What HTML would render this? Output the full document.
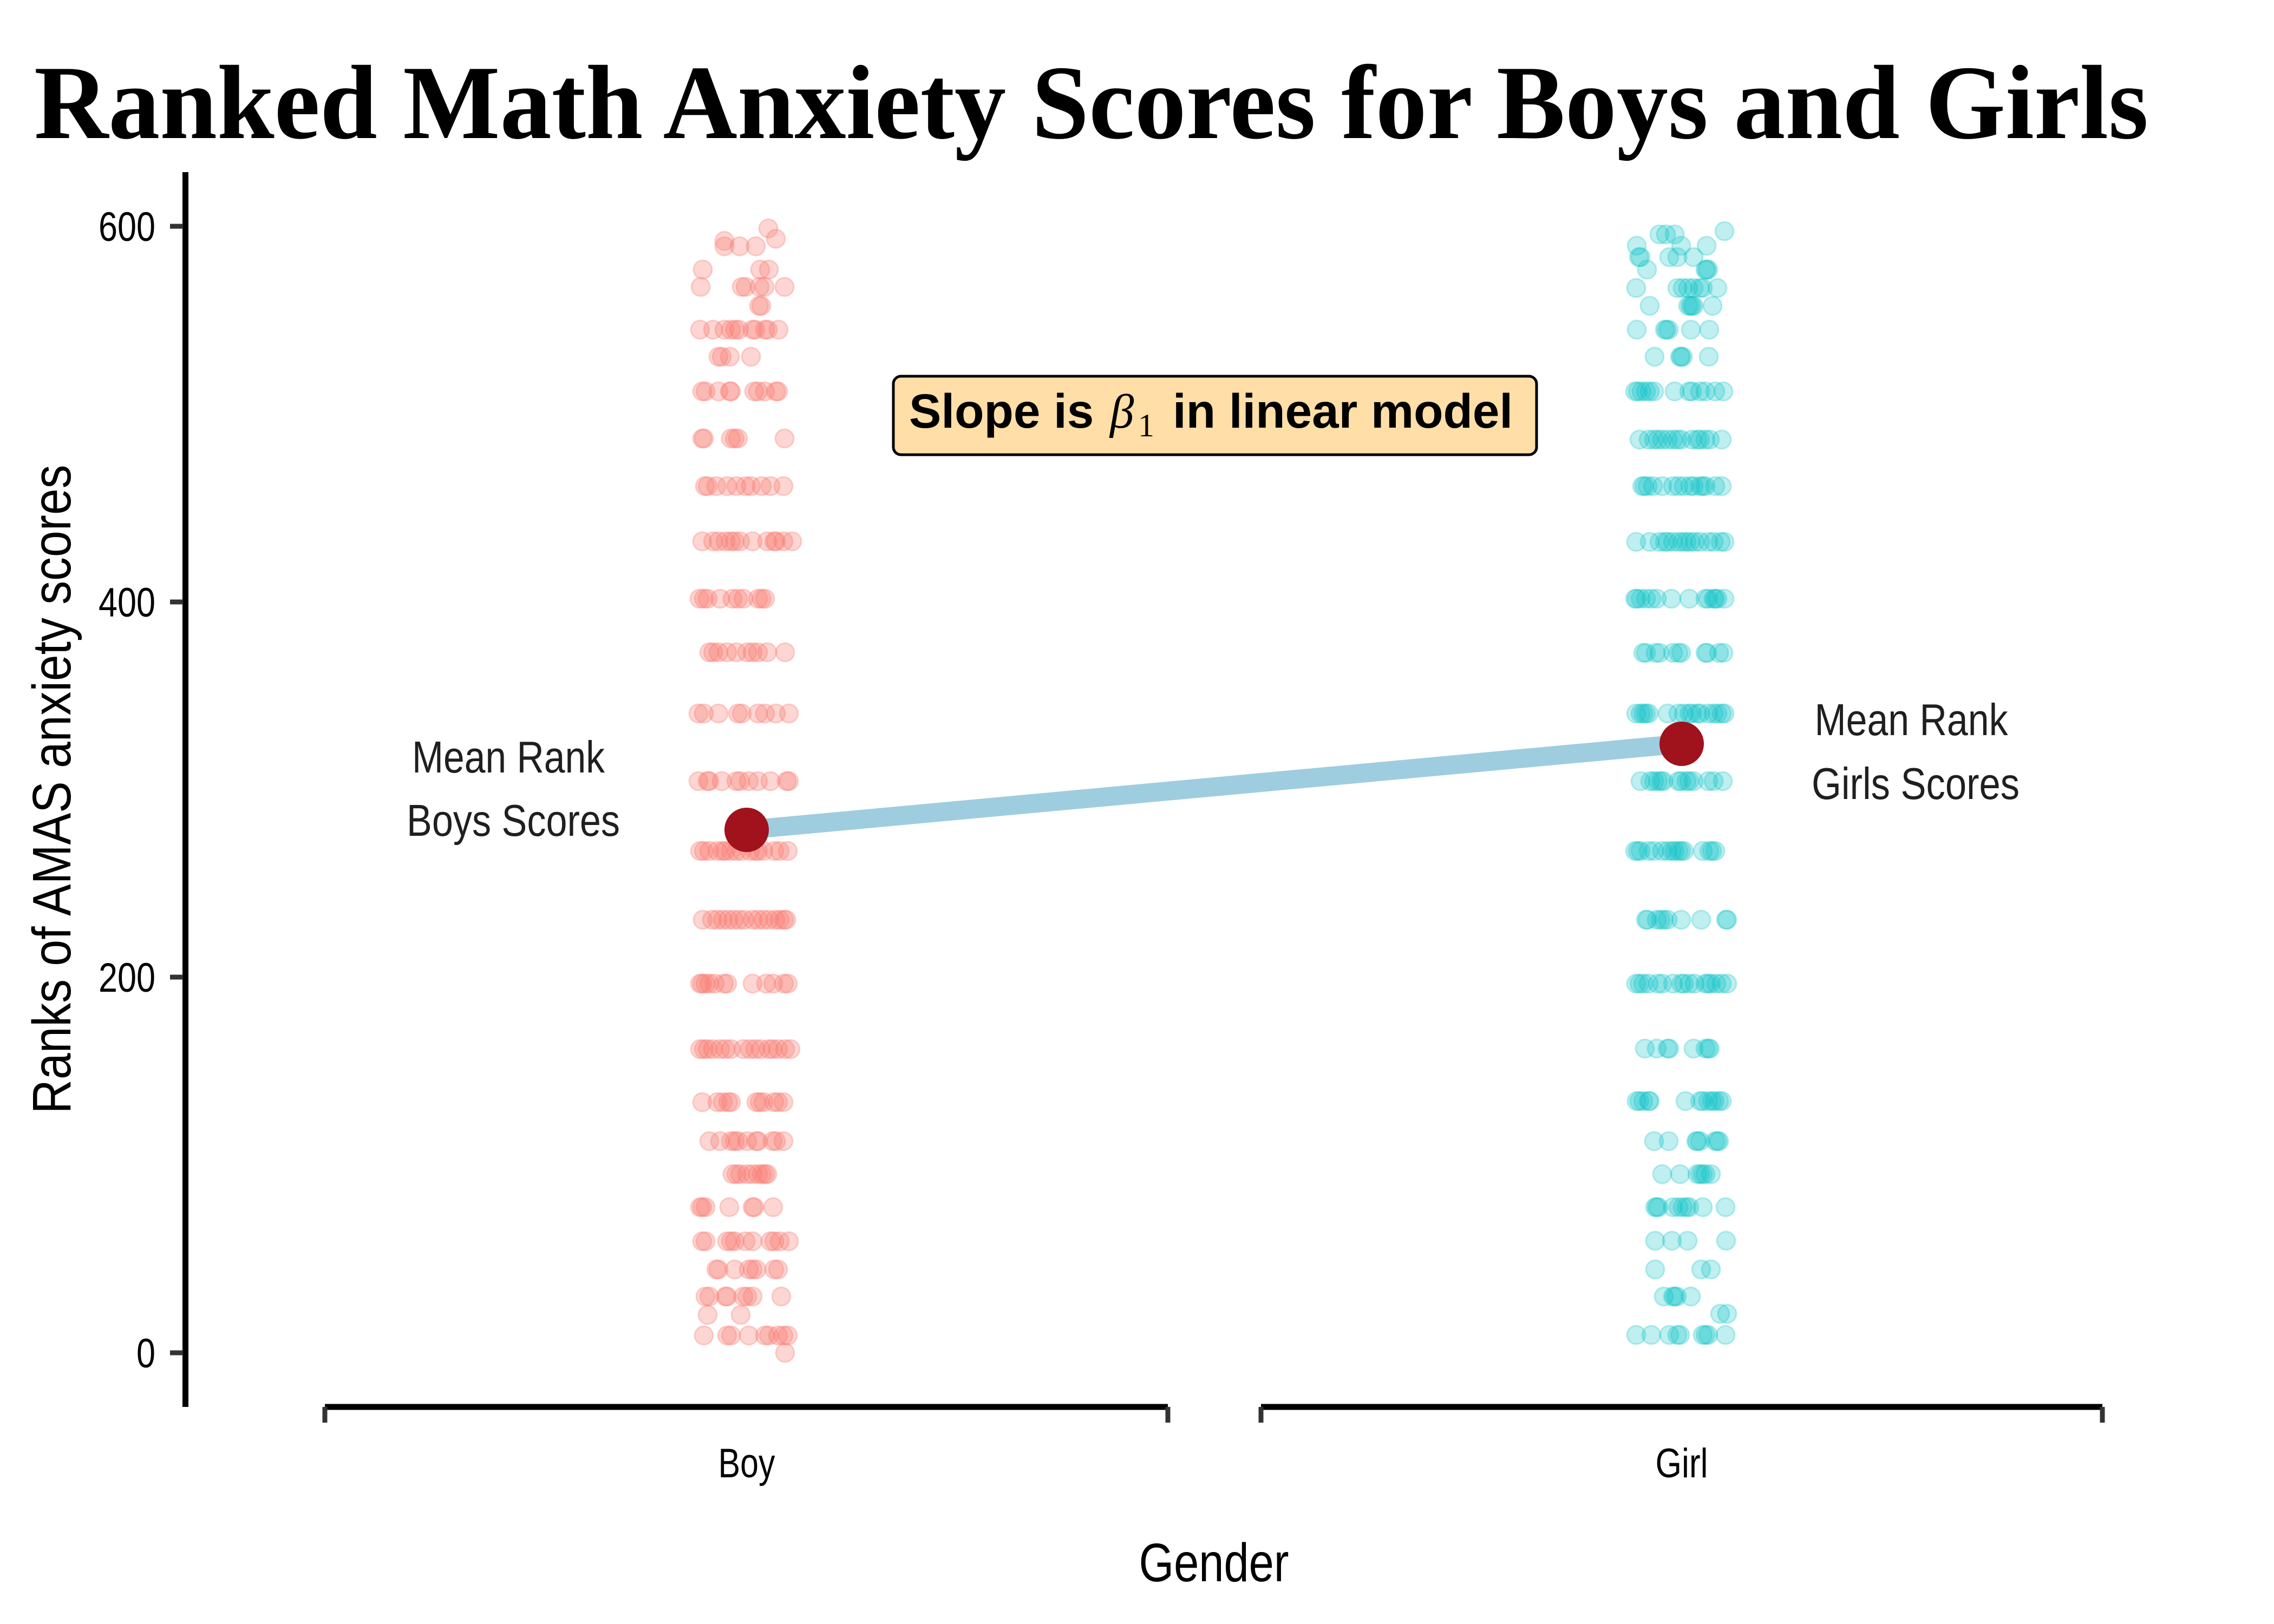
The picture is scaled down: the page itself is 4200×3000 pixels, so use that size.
<!DOCTYPE html>
<html><head><meta charset="utf-8"><style>html,body{margin:0;padding:0;background:#fff}svg{display:block}</style></head>
<body>
<svg xmlns="http://www.w3.org/2000/svg" width="4200" height="3000" viewBox="0 0 4200 3000">
<rect width="4200" height="3000" fill="#fff"/>
<text x="63" y="255" font-family="Liberation Serif, serif" font-weight="bold" font-size="195" textLength="3905" lengthAdjust="spacingAndGlyphs">Ranked Math Anxiety Scores for Boys and Girls</text>

<!-- boys points -->
<g fill="#F8766D" fill-opacity="0.3" stroke="#F8766D" stroke-opacity="0.3" stroke-width="3">
<circle cx="1419" cy="422" r="17"/>
<circle cx="1433" cy="441" r="17"/>
<circle cx="1338" cy="445" r="17"/>
<circle cx="1338" cy="455" r="17"/><circle cx="1366" cy="455" r="17"/><circle cx="1396" cy="455" r="17"/>
<circle cx="1298" cy="498" r="17"/><circle cx="1404" cy="498" r="17"/><circle cx="1420" cy="498" r="17"/>
<circle cx="1294" cy="530" r="17"/><circle cx="1370" cy="530" r="17"/><circle cx="1377" cy="530" r="17"/><circle cx="1403" cy="530" r="17"/><circle cx="1412" cy="530" r="17"/><circle cx="1449" cy="530" r="17"/>
<circle cx="1402" cy="565" r="17"/><circle cx="1406" cy="565" r="17"/>
<circle cx="1293" cy="609" r="17"/><circle cx="1317" cy="609" r="17"/><circle cx="1338" cy="609" r="17"/><circle cx="1350" cy="609" r="17"/><circle cx="1358" cy="609" r="17"/><circle cx="1365" cy="609" r="17"/><circle cx="1390" cy="609" r="17"/><circle cx="1395" cy="609" r="17"/><circle cx="1413" cy="609" r="17"/><circle cx="1418" cy="609" r="17"/><circle cx="1438" cy="609" r="17"/>
<circle cx="1327" cy="659" r="17"/><circle cx="1333" cy="659" r="17"/><circle cx="1348" cy="659" r="17"/><circle cx="1387" cy="659" r="17"/>
<circle cx="1297" cy="723" r="17"/><circle cx="1303" cy="723" r="17"/><circle cx="1327" cy="723" r="17"/><circle cx="1348" cy="723" r="17"/><circle cx="1350" cy="723" r="17"/><circle cx="1393" cy="723" r="17"/><circle cx="1400" cy="723" r="17"/><circle cx="1413" cy="723" r="17"/><circle cx="1433" cy="723" r="17"/><circle cx="1437" cy="723" r="17"/>
<circle cx="1297" cy="810" r="17"/><circle cx="1300" cy="810" r="17"/><circle cx="1350" cy="810" r="17"/><circle cx="1357" cy="810" r="17"/><circle cx="1363" cy="810" r="17"/><circle cx="1449" cy="810" r="17"/>
<circle cx="1302" cy="898" r="17"/><circle cx="1307" cy="898" r="17"/><circle cx="1323" cy="898" r="17"/><circle cx="1343" cy="898" r="17"/><circle cx="1360" cy="898" r="17"/><circle cx="1377" cy="898" r="17"/><circle cx="1387" cy="898" r="17"/><circle cx="1407" cy="898" r="17"/><circle cx="1423" cy="898" r="17"/><circle cx="1447" cy="898" r="17"/>
<circle cx="1297" cy="1000" r="17"/><circle cx="1317" cy="1000" r="17"/><circle cx="1327" cy="1000" r="17"/><circle cx="1340" cy="1000" r="17"/><circle cx="1350" cy="1000" r="17"/><circle cx="1357" cy="1000" r="17"/><circle cx="1367" cy="1000" r="17"/><circle cx="1390" cy="1000" r="17"/><circle cx="1417" cy="1000" r="17"/><circle cx="1430" cy="1000" r="17"/><circle cx="1433" cy="1000" r="17"/><circle cx="1447" cy="1000" r="17"/><circle cx="1463" cy="1000" r="17"/>
<circle cx="1292" cy="1106" r="17"/><circle cx="1300" cy="1106" r="17"/><circle cx="1307" cy="1106" r="17"/><circle cx="1330" cy="1106" r="17"/><circle cx="1353" cy="1106" r="17"/><circle cx="1363" cy="1106" r="17"/><circle cx="1373" cy="1106" r="17"/><circle cx="1400" cy="1106" r="17"/><circle cx="1407" cy="1106" r="17"/><circle cx="1413" cy="1106" r="17"/>
<circle cx="1310" cy="1205" r="17"/><circle cx="1317" cy="1205" r="17"/><circle cx="1327" cy="1205" r="17"/><circle cx="1343" cy="1205" r="17"/><circle cx="1360" cy="1205" r="17"/><circle cx="1380" cy="1205" r="17"/><circle cx="1390" cy="1205" r="17"/><circle cx="1400" cy="1205" r="17"/><circle cx="1417" cy="1205" r="17"/><circle cx="1450" cy="1205" r="17"/>
<circle cx="1290" cy="1318" r="17"/><circle cx="1300" cy="1318" r="17"/><circle cx="1327" cy="1318" r="17"/><circle cx="1363" cy="1318" r="17"/><circle cx="1370" cy="1318" r="17"/><circle cx="1400" cy="1318" r="17"/><circle cx="1413" cy="1318" r="17"/><circle cx="1433" cy="1318" r="17"/><circle cx="1457" cy="1318" r="17"/>
<circle cx="1290" cy="1443" r="17"/><circle cx="1307" cy="1443" r="17"/><circle cx="1310" cy="1443" r="17"/><circle cx="1333" cy="1443" r="17"/><circle cx="1360" cy="1443" r="17"/><circle cx="1367" cy="1443" r="17"/><circle cx="1383" cy="1443" r="17"/><circle cx="1400" cy="1443" r="17"/><circle cx="1423" cy="1443" r="17"/><circle cx="1453" cy="1443" r="17"/><circle cx="1457" cy="1443" r="17"/>
<circle cx="1293" cy="1572" r="17"/><circle cx="1300" cy="1572" r="17"/><circle cx="1310" cy="1572" r="17"/><circle cx="1325" cy="1572" r="17"/><circle cx="1335" cy="1572" r="17"/><circle cx="1340" cy="1572" r="17"/><circle cx="1350" cy="1572" r="17"/><circle cx="1360" cy="1572" r="17"/><circle cx="1370" cy="1572" r="17"/><circle cx="1385" cy="1572" r="17"/><circle cx="1395" cy="1572" r="17"/><circle cx="1400" cy="1572" r="17"/><circle cx="1410" cy="1572" r="17"/><circle cx="1430" cy="1572" r="17"/><circle cx="1440" cy="1572" r="17"/><circle cx="1455" cy="1572" r="17"/>
<circle cx="1298" cy="1699" r="17"/><circle cx="1315" cy="1699" r="17"/><circle cx="1325" cy="1699" r="17"/><circle cx="1335" cy="1699" r="17"/><circle cx="1345" cy="1699" r="17"/><circle cx="1355" cy="1699" r="17"/><circle cx="1365" cy="1699" r="17"/><circle cx="1375" cy="1699" r="17"/><circle cx="1390" cy="1699" r="17"/><circle cx="1400" cy="1699" r="17"/><circle cx="1410" cy="1699" r="17"/><circle cx="1420" cy="1699" r="17"/><circle cx="1432" cy="1699" r="17"/><circle cx="1440" cy="1699" r="17"/><circle cx="1448" cy="1699" r="17"/><circle cx="1452" cy="1699" r="17"/>
<circle cx="1293" cy="1817" r="17"/><circle cx="1297" cy="1817" r="17"/><circle cx="1303" cy="1817" r="17"/><circle cx="1310" cy="1817" r="17"/><circle cx="1320" cy="1817" r="17"/><circle cx="1337" cy="1817" r="17"/><circle cx="1343" cy="1817" r="17"/><circle cx="1390" cy="1817" r="17"/><circle cx="1415" cy="1817" r="17"/><circle cx="1428" cy="1817" r="17"/><circle cx="1448" cy="1817" r="17"/><circle cx="1455" cy="1817" r="17"/>
<circle cx="1293" cy="1938" r="17"/><circle cx="1300" cy="1938" r="17"/><circle cx="1307" cy="1938" r="17"/><circle cx="1317" cy="1938" r="17"/><circle cx="1330" cy="1938" r="17"/><circle cx="1340" cy="1938" r="17"/><circle cx="1350" cy="1938" r="17"/><circle cx="1373" cy="1938" r="17"/><circle cx="1385" cy="1938" r="17"/><circle cx="1395" cy="1938" r="17"/><circle cx="1405" cy="1938" r="17"/><circle cx="1420" cy="1938" r="17"/><circle cx="1427" cy="1938" r="17"/><circle cx="1437" cy="1938" r="17"/><circle cx="1450" cy="1938" r="17"/><circle cx="1460" cy="1938" r="17"/>
<circle cx="1297" cy="2036" r="17"/><circle cx="1325" cy="2036" r="17"/><circle cx="1335" cy="2036" r="17"/><circle cx="1345" cy="2036" r="17"/><circle cx="1350" cy="2036" r="17"/><circle cx="1397" cy="2036" r="17"/><circle cx="1403" cy="2036" r="17"/><circle cx="1410" cy="2036" r="17"/><circle cx="1430" cy="2036" r="17"/><circle cx="1437" cy="2036" r="17"/><circle cx="1447" cy="2036" r="17"/>
<circle cx="1310" cy="2108" r="17"/><circle cx="1330" cy="2108" r="17"/><circle cx="1350" cy="2108" r="17"/><circle cx="1357" cy="2108" r="17"/><circle cx="1363" cy="2108" r="17"/><circle cx="1380" cy="2108" r="17"/><circle cx="1397" cy="2108" r="17"/><circle cx="1400" cy="2108" r="17"/><circle cx="1427" cy="2108" r="17"/><circle cx="1433" cy="2108" r="17"/><circle cx="1447" cy="2108" r="17"/>
<circle cx="1353" cy="2169" r="17"/><circle cx="1360" cy="2169" r="17"/><circle cx="1367" cy="2169" r="17"/><circle cx="1380" cy="2169" r="17"/><circle cx="1390" cy="2169" r="17"/><circle cx="1400" cy="2169" r="17"/><circle cx="1407" cy="2169" r="17"/><circle cx="1413" cy="2169" r="17"/><circle cx="1417" cy="2169" r="17"/>
<circle cx="1293" cy="2230" r="17"/><circle cx="1297" cy="2230" r="17"/><circle cx="1303" cy="2230" r="17"/><circle cx="1347" cy="2230" r="17"/><circle cx="1390" cy="2230" r="17"/><circle cx="1393" cy="2230" r="17"/><circle cx="1428" cy="2230" r="17"/>
<circle cx="1297" cy="2293" r="17"/><circle cx="1303" cy="2293" r="17"/><circle cx="1343" cy="2293" r="17"/><circle cx="1350" cy="2293" r="17"/><circle cx="1357" cy="2293" r="17"/><circle cx="1377" cy="2293" r="17"/><circle cx="1390" cy="2293" r="17"/><circle cx="1423" cy="2293" r="17"/><circle cx="1430" cy="2293" r="17"/><circle cx="1440" cy="2293" r="17"/><circle cx="1457" cy="2293" r="17"/>
<circle cx="1323" cy="2345" r="17"/><circle cx="1327" cy="2345" r="17"/><circle cx="1357" cy="2345" r="17"/><circle cx="1383" cy="2345" r="17"/><circle cx="1390" cy="2345" r="17"/><circle cx="1397" cy="2345" r="17"/><circle cx="1430" cy="2345" r="17"/><circle cx="1437" cy="2345" r="17"/>
<circle cx="1303" cy="2395" r="17"/><circle cx="1310" cy="2395" r="17"/><circle cx="1340" cy="2395" r="17"/><circle cx="1343" cy="2395" r="17"/><circle cx="1373" cy="2395" r="17"/><circle cx="1380" cy="2395" r="17"/><circle cx="1390" cy="2395" r="17"/><circle cx="1443" cy="2395" r="17"/>
<circle cx="1307" cy="2429" r="17"/><circle cx="1368" cy="2429" r="17"/>
<circle cx="1300" cy="2467" r="17"/><circle cx="1343" cy="2467" r="17"/><circle cx="1350" cy="2467" r="17"/><circle cx="1383" cy="2467" r="17"/><circle cx="1413" cy="2467" r="17"/><circle cx="1420" cy="2467" r="17"/><circle cx="1437" cy="2467" r="17"/><circle cx="1447" cy="2467" r="17"/><circle cx="1455" cy="2467" r="17"/>
<circle cx="1450" cy="2499" r="17"/>
</g>

<!-- girls points -->
<g fill="#00BFC4" fill-opacity="0.25" stroke="#00BFC4" stroke-opacity="0.25" stroke-width="3">
<circle cx="3185" cy="427" r="17"/>
<circle cx="3065" cy="433" r="17"/><circle cx="3077" cy="433" r="17"/><circle cx="3093" cy="433" r="17"/>
<circle cx="3023" cy="454" r="17"/><circle cx="3105" cy="454" r="17"/><circle cx="3152" cy="454" r="17"/>
<circle cx="3027" cy="475" r="17"/><circle cx="3030" cy="475" r="17"/><circle cx="3083" cy="475" r="17"/><circle cx="3098" cy="475" r="17"/><circle cx="3128" cy="475" r="17"/>
<circle cx="3042" cy="498" r="17"/><circle cx="3150" cy="498" r="17"/><circle cx="3152" cy="498" r="17"/><circle cx="3155" cy="498" r="17"/>
<circle cx="3022" cy="532" r="17"/><circle cx="3098" cy="532" r="17"/><circle cx="3108" cy="532" r="17"/><circle cx="3118" cy="532" r="17"/><circle cx="3128" cy="532" r="17"/><circle cx="3140" cy="532" r="17"/><circle cx="3145" cy="532" r="17"/><circle cx="3172" cy="532" r="17"/>
<circle cx="3047" cy="565" r="17"/><circle cx="3118" cy="565" r="17"/><circle cx="3122" cy="565" r="17"/><circle cx="3125" cy="565" r="17"/><circle cx="3128" cy="565" r="17"/><circle cx="3163" cy="565" r="17"/>
<circle cx="3023" cy="609" r="17"/><circle cx="3075" cy="609" r="17"/><circle cx="3078" cy="609" r="17"/><circle cx="3082" cy="609" r="17"/><circle cx="3123" cy="609" r="17"/><circle cx="3157" cy="609" r="17"/>
<circle cx="3056" cy="659" r="17"/><circle cx="3103" cy="659" r="17"/><circle cx="3105" cy="659" r="17"/><circle cx="3108" cy="659" r="17"/><circle cx="3156" cy="659" r="17"/>
<circle cx="3020" cy="723" r="17"/><circle cx="3025" cy="723" r="17"/><circle cx="3032" cy="723" r="17"/><circle cx="3040" cy="723" r="17"/><circle cx="3047" cy="723" r="17"/><circle cx="3055" cy="723" r="17"/><circle cx="3093" cy="723" r="17"/><circle cx="3120" cy="723" r="17"/><circle cx="3125" cy="723" r="17"/><circle cx="3140" cy="723" r="17"/><circle cx="3150" cy="723" r="17"/><circle cx="3168" cy="723" r="17"/><circle cx="3183" cy="723" r="17"/>
<circle cx="3028" cy="812" r="17"/><circle cx="3045" cy="812" r="17"/><circle cx="3055" cy="812" r="17"/><circle cx="3062" cy="812" r="17"/><circle cx="3070" cy="812" r="17"/><circle cx="3080" cy="812" r="17"/><circle cx="3090" cy="812" r="17"/><circle cx="3098" cy="812" r="17"/><circle cx="3105" cy="812" r="17"/><circle cx="3125" cy="812" r="17"/><circle cx="3135" cy="812" r="17"/><circle cx="3140" cy="812" r="17"/><circle cx="3150" cy="812" r="17"/><circle cx="3158" cy="812" r="17"/><circle cx="3180" cy="812" r="17"/>
<circle cx="3033" cy="898" r="17"/><circle cx="3037" cy="898" r="17"/><circle cx="3043" cy="898" r="17"/><circle cx="3053" cy="898" r="17"/><circle cx="3070" cy="898" r="17"/><circle cx="3090" cy="898" r="17"/><circle cx="3100" cy="898" r="17"/><circle cx="3110" cy="898" r="17"/><circle cx="3122" cy="898" r="17"/><circle cx="3128" cy="898" r="17"/><circle cx="3140" cy="898" r="17"/><circle cx="3145" cy="898" r="17"/><circle cx="3150" cy="898" r="17"/><circle cx="3168" cy="898" r="17"/><circle cx="3180" cy="898" r="17"/>
<circle cx="3022" cy="1001" r="17"/><circle cx="3047" cy="1001" r="17"/><circle cx="3065" cy="1001" r="17"/><circle cx="3075" cy="1001" r="17"/><circle cx="3080" cy="1001" r="17"/><circle cx="3090" cy="1001" r="17"/><circle cx="3100" cy="1001" r="17"/><circle cx="3108" cy="1001" r="17"/><circle cx="3115" cy="1001" r="17"/><circle cx="3122" cy="1001" r="17"/><circle cx="3130" cy="1001" r="17"/><circle cx="3140" cy="1001" r="17"/><circle cx="3155" cy="1001" r="17"/><circle cx="3165" cy="1001" r="17"/><circle cx="3178" cy="1001" r="17"/><circle cx="3185" cy="1001" r="17"/>
<circle cx="3020" cy="1106" r="17"/><circle cx="3023" cy="1106" r="17"/><circle cx="3030" cy="1106" r="17"/><circle cx="3040" cy="1106" r="17"/><circle cx="3050" cy="1106" r="17"/><circle cx="3060" cy="1106" r="17"/><circle cx="3087" cy="1106" r="17"/><circle cx="3120" cy="1106" r="17"/><circle cx="3150" cy="1106" r="17"/><circle cx="3155" cy="1106" r="17"/><circle cx="3165" cy="1106" r="17"/><circle cx="3168" cy="1106" r="17"/><circle cx="3172" cy="1106" r="17"/><circle cx="3185" cy="1106" r="17"/>
<circle cx="3035" cy="1206" r="17"/><circle cx="3040" cy="1206" r="17"/><circle cx="3058" cy="1206" r="17"/><circle cx="3065" cy="1206" r="17"/><circle cx="3090" cy="1206" r="17"/><circle cx="3100" cy="1206" r="17"/><circle cx="3105" cy="1206" r="17"/><circle cx="3150" cy="1206" r="17"/><circle cx="3153" cy="1206" r="17"/><circle cx="3175" cy="1206" r="17"/><circle cx="3183" cy="1206" r="17"/>
<circle cx="3022" cy="1318" r="17"/><circle cx="3030" cy="1318" r="17"/><circle cx="3035" cy="1318" r="17"/><circle cx="3040" cy="1318" r="17"/><circle cx="3045" cy="1318" r="17"/><circle cx="3080" cy="1318" r="17"/><circle cx="3100" cy="1318" r="17"/><circle cx="3110" cy="1318" r="17"/><circle cx="3120" cy="1318" r="17"/><circle cx="3125" cy="1318" r="17"/><circle cx="3135" cy="1318" r="17"/><circle cx="3140" cy="1318" r="17"/><circle cx="3155" cy="1318" r="17"/><circle cx="3165" cy="1318" r="17"/><circle cx="3172" cy="1318" r="17"/><circle cx="3180" cy="1318" r="17"/><circle cx="3185" cy="1318" r="17"/>
<circle cx="3030" cy="1443" r="17"/><circle cx="3048" cy="1443" r="17"/><circle cx="3055" cy="1443" r="17"/><circle cx="3062" cy="1443" r="17"/><circle cx="3068" cy="1443" r="17"/><circle cx="3072" cy="1443" r="17"/><circle cx="3100" cy="1443" r="17"/><circle cx="3105" cy="1443" r="17"/><circle cx="3115" cy="1443" r="17"/><circle cx="3120" cy="1443" r="17"/><circle cx="3128" cy="1443" r="17"/><circle cx="3155" cy="1443" r="17"/><circle cx="3165" cy="1443" r="17"/><circle cx="3182" cy="1443" r="17"/>
<circle cx="3020" cy="1572" r="17"/><circle cx="3025" cy="1572" r="17"/><circle cx="3030" cy="1572" r="17"/><circle cx="3045" cy="1572" r="17"/><circle cx="3055" cy="1572" r="17"/><circle cx="3070" cy="1572" r="17"/><circle cx="3080" cy="1572" r="17"/><circle cx="3088" cy="1572" r="17"/><circle cx="3093" cy="1572" r="17"/><circle cx="3100" cy="1572" r="17"/><circle cx="3105" cy="1572" r="17"/><circle cx="3110" cy="1572" r="17"/><circle cx="3145" cy="1572" r="17"/><circle cx="3157" cy="1572" r="17"/><circle cx="3162" cy="1572" r="17"/><circle cx="3168" cy="1572" r="17"/>
<circle cx="3040" cy="1699" r="17"/><circle cx="3043" cy="1699" r="17"/><circle cx="3060" cy="1699" r="17"/><circle cx="3067" cy="1699" r="17"/><circle cx="3073" cy="1699" r="17"/><circle cx="3080" cy="1699" r="17"/><circle cx="3105" cy="1699" r="17"/><circle cx="3142" cy="1699" r="17"/><circle cx="3188" cy="1699" r="17"/><circle cx="3190" cy="1699" r="17"/>
<circle cx="3022" cy="1817" r="17"/><circle cx="3028" cy="1817" r="17"/><circle cx="3035" cy="1817" r="17"/><circle cx="3045" cy="1817" r="17"/><circle cx="3062" cy="1817" r="17"/><circle cx="3070" cy="1817" r="17"/><circle cx="3090" cy="1817" r="17"/><circle cx="3105" cy="1817" r="17"/><circle cx="3110" cy="1817" r="17"/><circle cx="3120" cy="1817" r="17"/><circle cx="3130" cy="1817" r="17"/><circle cx="3150" cy="1817" r="17"/><circle cx="3155" cy="1817" r="17"/><circle cx="3160" cy="1817" r="17"/><circle cx="3170" cy="1817" r="17"/><circle cx="3180" cy="1817" r="17"/><circle cx="3190" cy="1817" r="17"/>
<circle cx="3038" cy="1937" r="17"/><circle cx="3060" cy="1937" r="17"/><circle cx="3080" cy="1937" r="17"/><circle cx="3083" cy="1937" r="17"/><circle cx="3128" cy="1937" r="17"/><circle cx="3150" cy="1937" r="17"/><circle cx="3155" cy="1937" r="17"/><circle cx="3158" cy="1937" r="17"/>
<circle cx="3023" cy="2034" r="17"/><circle cx="3028" cy="2034" r="17"/><circle cx="3035" cy="2034" r="17"/><circle cx="3045" cy="2034" r="17"/><circle cx="3047" cy="2034" r="17"/><circle cx="3113" cy="2034" r="17"/><circle cx="3140" cy="2034" r="17"/><circle cx="3145" cy="2034" r="17"/><circle cx="3155" cy="2034" r="17"/><circle cx="3162" cy="2034" r="17"/><circle cx="3167" cy="2034" r="17"/><circle cx="3175" cy="2034" r="17"/><circle cx="3180" cy="2034" r="17"/>
<circle cx="3055" cy="2108" r="17"/><circle cx="3082" cy="2108" r="17"/><circle cx="3133" cy="2108" r="17"/><circle cx="3135" cy="2108" r="17"/><circle cx="3140" cy="2108" r="17"/><circle cx="3168" cy="2108" r="17"/><circle cx="3172" cy="2108" r="17"/><circle cx="3175" cy="2108" r="17"/>
<circle cx="3070" cy="2169" r="17"/><circle cx="3103" cy="2169" r="17"/><circle cx="3135" cy="2169" r="17"/><circle cx="3140" cy="2169" r="17"/><circle cx="3145" cy="2169" r="17"/><circle cx="3150" cy="2169" r="17"/><circle cx="3160" cy="2169" r="17"/>
<circle cx="3057" cy="2230" r="17"/><circle cx="3060" cy="2230" r="17"/><circle cx="3063" cy="2230" r="17"/><circle cx="3090" cy="2230" r="17"/><circle cx="3100" cy="2230" r="17"/><circle cx="3108" cy="2230" r="17"/><circle cx="3115" cy="2230" r="17"/><circle cx="3120" cy="2230" r="17"/><circle cx="3145" cy="2230" r="17"/><circle cx="3187" cy="2230" r="17"/>
<circle cx="3057" cy="2292" r="17"/><circle cx="3088" cy="2292" r="17"/><circle cx="3117" cy="2292" r="17"/><circle cx="3188" cy="2292" r="17"/>
<circle cx="3057" cy="2345" r="17"/><circle cx="3142" cy="2345" r="17"/><circle cx="3160" cy="2345" r="17"/>
<circle cx="3073" cy="2395" r="17"/><circle cx="3090" cy="2395" r="17"/><circle cx="3093" cy="2395" r="17"/><circle cx="3097" cy="2395" r="17"/><circle cx="3123" cy="2395" r="17"/>
<circle cx="3177" cy="2427" r="17"/><circle cx="3190" cy="2427" r="17"/>
<circle cx="3022" cy="2466" r="17"/><circle cx="3050" cy="2466" r="17"/><circle cx="3083" cy="2466" r="17"/><circle cx="3098" cy="2466" r="17"/><circle cx="3103" cy="2466" r="17"/><circle cx="3145" cy="2466" r="17"/><circle cx="3150" cy="2466" r="17"/><circle cx="3155" cy="2466" r="17"/><circle cx="3187" cy="2466" r="17"/>
</g>

<!-- slope line and means -->
<line x1="1379" y1="1533" x2="3106" y2="1374" stroke="#9ECDDF" stroke-width="35"/>
<circle cx="1379" cy="1533" r="41" fill="#A0121C"/>
<circle cx="3106" cy="1374" r="41" fill="#A0121C"/>

<!-- annotation box -->
<rect x="1650" y="695" width="1188" height="145" rx="14" ry="14" fill="#FFDEA7" stroke="#000" stroke-width="5"/>
<text x="1679" y="790" font-family="Liberation Sans, Arial, sans-serif" font-weight="bold" font-size="89" fill="#000">Slope is</text>
<text x="2050" y="790" font-family="Liberation Serif, serif" font-style="italic" font-size="89" fill="#000">β</text>
<text x="2102" y="806" font-family="Liberation Serif, serif" font-size="60" fill="#000">1</text>
<text x="2166" y="790" font-family="Liberation Sans, Arial, sans-serif" font-weight="bold" font-size="89" fill="#000">in linear model</text>

<!-- mean rank labels -->
<g font-family="Liberation Sans, Arial, sans-serif" font-size="83" fill="#1f1f1f" text-anchor="middle">
<text x="939" y="1427" textLength="356" lengthAdjust="spacingAndGlyphs">Mean Rank</text>
<text x="948" y="1544" textLength="394" lengthAdjust="spacingAndGlyphs">Boys Scores</text>
<text x="3530" y="1358" textLength="357" lengthAdjust="spacingAndGlyphs">Mean Rank</text>
<text x="3538" y="1476" textLength="384" lengthAdjust="spacingAndGlyphs">Girls Scores</text>
</g>

<!-- y axis -->
<line x1="342.5" y1="318" x2="342.5" y2="2599" stroke="#000" stroke-width="11"/>
<g stroke="#333" stroke-width="9">
<line x1="314" y1="418" x2="338" y2="418"/>
<line x1="314" y1="1112" x2="338" y2="1112"/>
<line x1="314" y1="1805" x2="338" y2="1805"/>
<line x1="314" y1="2499" x2="338" y2="2499"/>
</g>
<g font-family="Liberation Sans, Arial, sans-serif" font-size="76" fill="#000" text-anchor="end">
<text x="287" y="445" textLength="105" lengthAdjust="spacingAndGlyphs">600</text>
<text x="287" y="1139" textLength="105" lengthAdjust="spacingAndGlyphs">400</text>
<text x="287" y="1832" textLength="105" lengthAdjust="spacingAndGlyphs">200</text>
<text x="287" y="2526" textLength="35" lengthAdjust="spacingAndGlyphs">0</text>
</g>
<text transform="translate(130,1458) rotate(-90)" font-family="Liberation Sans, Arial, sans-serif" font-size="100" fill="#000" text-anchor="middle" textLength="1199" lengthAdjust="spacingAndGlyphs">Ranks of AMAS anxiety scores</text>

<!-- x axis brackets -->
<line x1="600" y1="2599" x2="2157" y2="2599" stroke="#000" stroke-width="11"/>
<line x1="2329" y1="2599" x2="3883" y2="2599" stroke="#000" stroke-width="11"/>
<g stroke="#333" stroke-width="9">
<line x1="600" y1="2599" x2="600" y2="2628"/>
<line x1="2157" y1="2599" x2="2157" y2="2628"/>
<line x1="2329" y1="2599" x2="2329" y2="2628"/>
<line x1="3883" y1="2599" x2="3883" y2="2628"/>
</g>
<g font-family="Liberation Sans, Arial, sans-serif" font-size="76" fill="#000" text-anchor="middle">
<text x="1379" y="2729" textLength="105" lengthAdjust="spacingAndGlyphs">Boy</text>
<text x="3106" y="2729" textLength="97" lengthAdjust="spacingAndGlyphs">Girl</text>
</g>
<text x="2242" y="2921" font-family="Liberation Sans, Arial, sans-serif" font-size="100" fill="#000" text-anchor="middle" textLength="277" lengthAdjust="spacingAndGlyphs">Gender</text>
</svg>
</body></html>
